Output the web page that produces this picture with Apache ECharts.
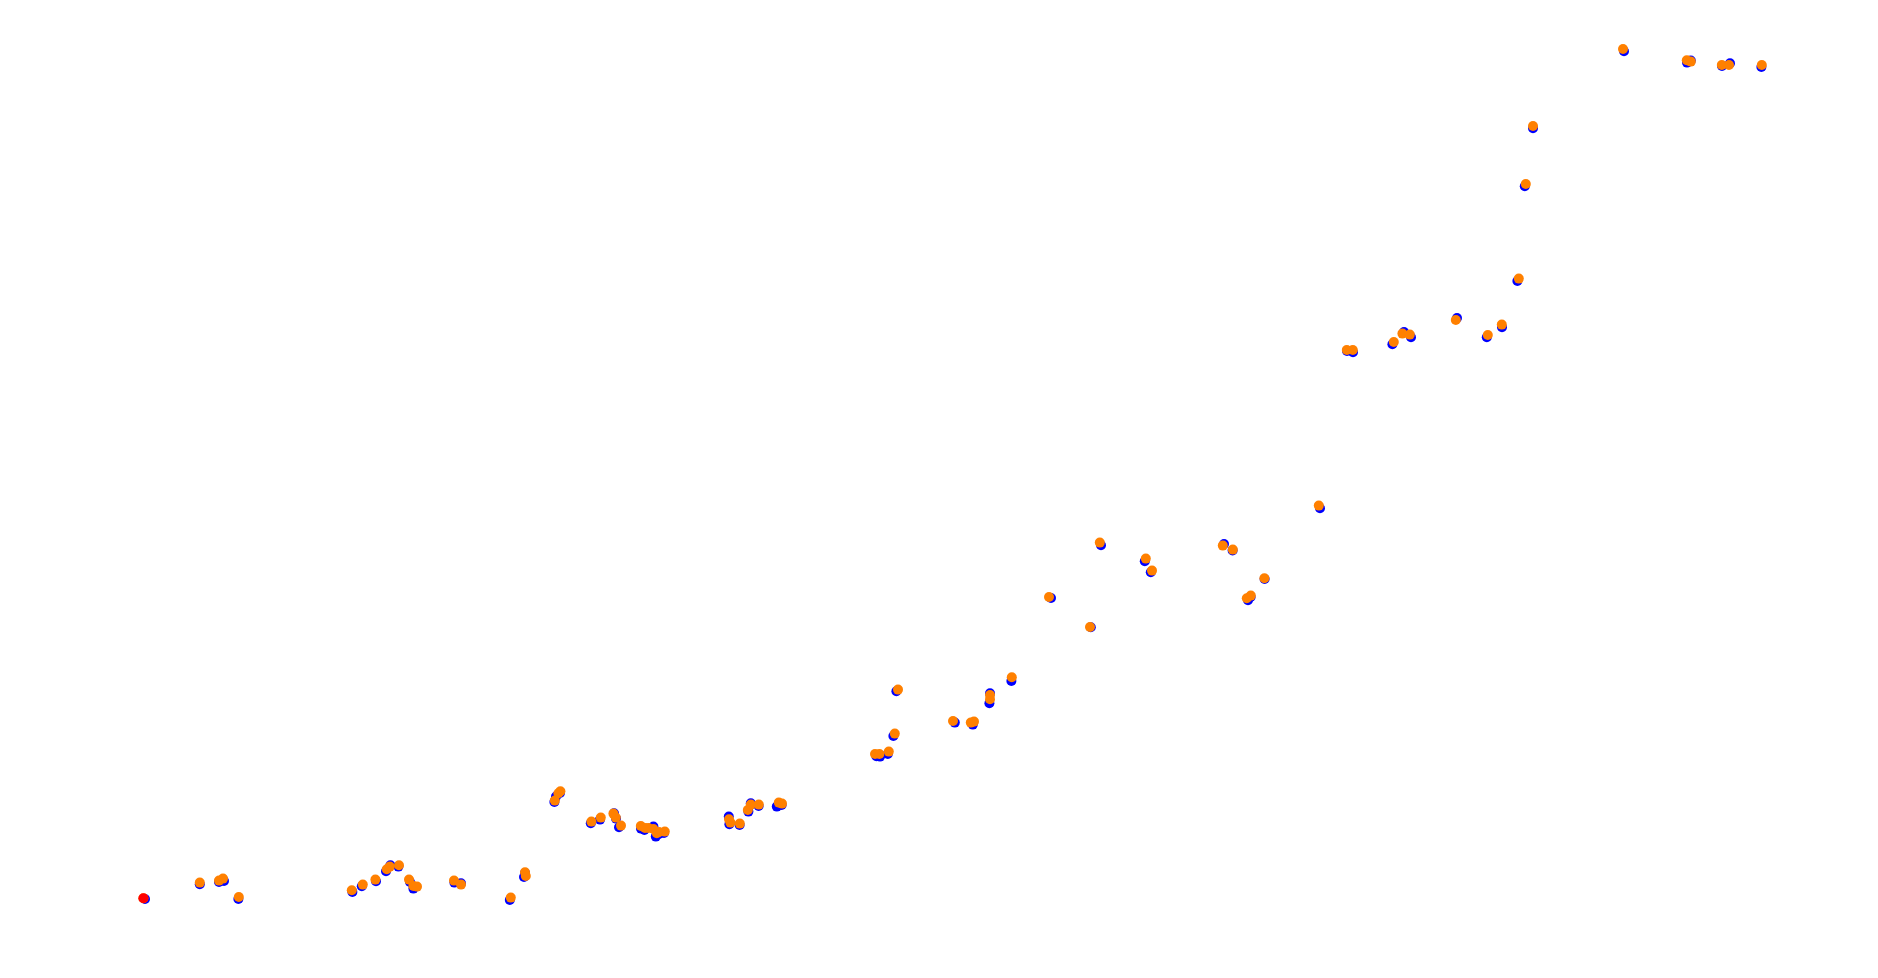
<!DOCTYPE html>
<html>
<head>
<meta charset="utf-8">
<script src="https://cdn.jsdelivr.net/npm/echarts@6/dist/echarts.min.js"></script>
<style>html,body{margin:0;padding:0;background:#fff;}#chart{width:1878px;height:978px;}</style>
</head>
<body>
<div id="chart"></div>
<script>
// Track positions (x, y) in chart units
const blueX = [72.5,99.9,109.5,112.0,119.2,176.2,180.9,188.0,193.0,195.2,199.2,205.0,206.7,227.2,230.5,254.9,262.0,262.5,277.2,278.0,280.0,295.4,300.0,307.0,308.0,309.5,320.5,322.2,326.7,327.9,329.5,332.0,364.4,364.7,369.8,374.2,375.4,379.3,388.4,390.8,438.2,440.0,443.9,446.7,448.2,477.4,486.4,495.0,494.7,505.7,525.5,545.4,550.5,572.4,575.4,612.0,616.3,624.0,625.3,632.3,660.0,673.5,676.5,696.2,702.0,705.5,728.5,743.4,751.0,758.7,762.4,766.5,812.0,845.4,843.5,865.0,861.0,880.7];
const blueY = [39.5,46.9,48.0,48.5,39.5,43.0,45.9,48.4,53.4,56.4,55.7,48.0,44.7,47.7,47.4,39.0,50.5,52.5,88.0,90.7,92.5,77.4,79.2,82.4,79.7,75.4,74.7,74.0,75.7,70.7,72.0,72.5,80.7,76.9,76.5,83.2,87.4,86.0,85.7,86.5,110.9,110.7,112.0,121.0,143.4,127.7,126.7,142.4,137.4,148.5,190.0,175.4,216.4,208.4,202.9,217.0,213.8,188.9,190.5,199.5,234.9,313.5,312.9,316.9,323.0,320.4,330.0,320.4,325.4,348.5,395.9,424.9,463.4,458.7,457.7,457.4,456.0,455.5];

const orangeX = [71.7,99.9,109.5,111.5,119.4,175.9,181.4,187.7,193.4,194.9,199.5,204.5,206.7,208.5,227.0,230.5,255.4,262.5,262.9,277.4,279.2,280.2,295.7,300.4,306.7,307.9,310.5,320.4,322.5,324.2,326.7,328.4,329.5,332.4,364.5,365.2,369.9,373.9,375.4,379.4,389.4,391.0,437.5,439.7,444.4,447.4,449.0,476.5,485.4,487.0,495.0,495.0,505.9,524.5,545.0,549.9,572.9,576.0,611.4,616.4,623.4,625.4,632.2,659.4,673.4,676.4,696.9,701.2,704.9,727.9,743.9,750.9,759.4,762.9,766.5,811.5,843.4,845.4,860.9,864.5,880.9];
const orangeY = [39.9,47.7,48.7,49.7,40.5,43.9,46.7,49.2,54.4,55.7,56.4,49.2,46.0,45.7,48.7,46.7,40.2,52.9,51.0,88.7,92.4,93.4,78.2,80.2,82.2,80.2,76.2,76.0,75.0,75.0,74.5,72.4,73.0,73.2,79.4,77.7,77.2,84.0,86.7,86.7,87.7,87.2,112.0,112.0,113.2,122.2,144.2,128.5,127.7,128.2,139.4,141.5,150.4,190.5,175.5,217.7,209.7,203.7,216.2,214.2,189.9,191.2,199.9,236.2,314.0,314.0,318.0,322.2,321.7,329.0,321.5,326.7,349.7,397.0,426.0,464.5,458.9,458.2,456.5,456.5,456.5];

const startX = [71.7];
const startY = [39.9];

function pairs(xs, ys){ return xs.map((x,i)=>[x, ys[i]]); }

const chart = echarts.init(document.getElementById('chart'));
chart.setOption({
  animation: false,
  backgroundColor: '#ffffff',
  grid: {left: 0, right: 0, top: 0, bottom: 0},
  xAxis: {type: 'value', min: 0, max: 939, show: false},
  yAxis: {type: 'value', min: 0, max: 489, show: false},
  series: [
    {type: 'scatter', symbolSize: 10, itemStyle: {color: '#0000ff', opacity: 1}, data: pairs(blueX, blueY), z: 1},
    {type: 'scatter', symbolSize: 10, itemStyle: {color: '#ff8000', opacity: 1}, data: pairs(orangeX, orangeY), z: 2},
    {type: 'scatter', symbolSize: 10, itemStyle: {color: '#ff0000', opacity: 1}, data: pairs(startX, startY), z: 3}
  ]
});
</script>
</body>
</html>
